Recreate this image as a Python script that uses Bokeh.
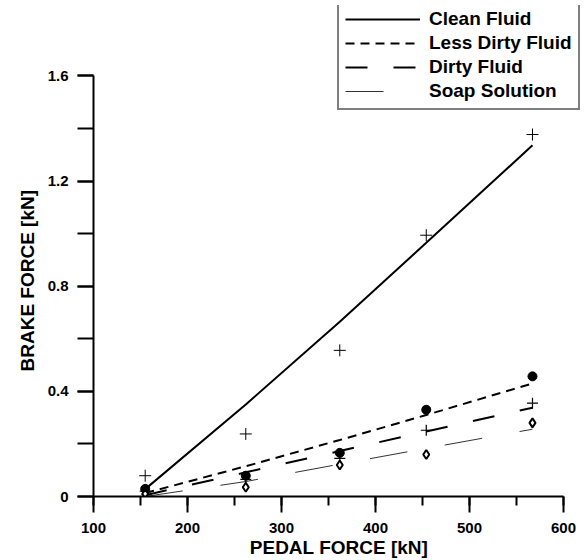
from bokeh.plotting import figure
from bokeh.models import Range1d, SingleIntervalTicker, Legend, LegendItem, Title
from bokeh.embed import file_html
from bokeh.resources import INLINE

# ---- data ----
pedal = [155, 262, 362, 454, 567]
clean_pts = [0.079, 0.238, 0.556, 0.994, 1.377]
clean_fit = [0.028, 0.35, 0.665, 0.965, 1.336]
less_pts = [0.029, 0.079, 0.166, 0.33, 0.457]
less_fit = [0.013, 0.115, 0.215, 0.31, 0.43]
dirty_pts = [0.02, 0.065, 0.145, 0.252, 0.355]
dirty_fit = [0.005, 0.092, 0.173, 0.247, 0.338]
soap_pts = [0.01, 0.035, 0.12, 0.16, 0.28]
soap_fit = [0.0, 0.057, 0.123, 0.183, 0.256]
series_names = ["Clean Fluid", "Less Dirty Fluid", "Dirty Fluid", "Soap Solution"]
x_title = "PEDAL FORCE [kN]"
y_title = "BRAKE FORCE [kN]"

x_lo, x_hi = 100, 600
y_lo, y_hi = 0, 1.6

FONT = "Liberation Sans"

# frame stretched to the canvas top/right so the legend box is not clipped;
# the axes themselves are bounded to the data extents
x_end = x_hi + (x_hi - x_lo) * 21 / 470
y_end = y_hi * 495 / 424

p = figure(width=584, height=560, output_backend="svg", toolbar_location=None,
           x_range=Range1d(x_lo, x_end), y_range=Range1d(y_lo, y_end),
           min_border_left=93, min_border_right=0, min_border_top=5, min_border_bottom=60)
p.outline_line_color = None
p.xgrid.visible = False
p.ygrid.visible = False
p.background_fill_color = "white"

# axes
p.xaxis.ticker = SingleIntervalTicker(interval=100, num_minor_ticks=2)
p.yaxis.ticker = SingleIntervalTicker(interval=0.4, num_minor_ticks=2)
p.xaxis.bounds = (x_lo, x_hi)
p.yaxis.bounds = (y_lo, y_hi)
p.xaxis.axis_label = x_title
for ax in (p.xaxis[0], p.yaxis[0]):
    ax.axis_line_width = 2
    ax.axis_line_color = "black"
    ax.major_tick_line_width = 2
    ax.minor_tick_line_width = 2
    ax.major_tick_line_color = "black"
    ax.minor_tick_line_color = "black"
    ax.major_tick_in = 0
    ax.minor_tick_in = 0
    ax.major_tick_out = 16
    ax.major_label_text_font = FONT
    ax.major_label_text_font_style = "bold"
    ax.major_label_text_font_size = "15px"
    ax.major_label_text_color = "black"
    ax.axis_label_text_font = FONT
    ax.axis_label_text_font_style = "bold"
    ax.axis_label_text_font_size = "19px"
    ax.axis_label_text_color = "black"
p.xaxis.major_label_standoff = 10
p.yaxis.major_label_standoff = 9
p.xaxis.minor_tick_out = 9
p.yaxis.minor_tick_out = 16
p.xaxis.axis_label_standoff = 1
p.yaxis.formatter.use_scientific = False

# y-axis title placed along the bounded axis (centred on 0..1.6, not on the frame)
y_title_obj = Title(text=y_title, align="left", offset=125, standoff=14,
                    text_font=FONT, text_font_style="bold", text_font_size="19px",
                    text_color="black")
p.add_layout(y_title_obj, "left")

# fitted lines
r_clean = p.line(pedal, clean_fit, line_color="black", line_width=2)
r_less = p.line(pedal, less_fit, line_color="black", line_width=2, line_dash="9 6")
r_dirty = p.line(pedal, dirty_fit, line_color="black", line_width=2, line_dash="22 26")
r_soap = p.line(pedal, soap_fit, line_color="#333333", line_width=1, line_dash="38 38")

# measured points
p.scatter(pedal, clean_pts, marker="cross", size=12, line_color="black", line_width=1)
p.scatter(pedal, less_pts, marker="circle", size=9, fill_color="black", line_color="black")
p.scatter(pedal, dirty_pts, marker="cross", size=11, line_color="black", line_width=1.2)
p.scatter(pedal, soap_pts, marker="diamond", size=9, fill_color="white", line_color="black", line_width=2)

legend = Legend(items=[LegendItem(label=n, renderers=[r]) for n, r in
                       zip(series_names, [r_clean, r_less, r_dirty, r_soap])],
                location=(244, 386))
legend.glyph_width = 75
legend.glyph_height = 20
legend.label_height = 23
legend.spacing = 1
legend.padding = 6
legend.margin = 0
legend.label_standoff = 9
legend.label_text_font = FONT
legend.label_text_font_style = "bold"
legend.label_text_font_size = "19px"
legend.label_text_color = "black"
legend.border_line_color = "black"
legend.border_line_width = 2
legend.background_fill_alpha = 1
p.add_layout(legend, "center")

open("out.html", "w").write(file_html(p, INLINE))
